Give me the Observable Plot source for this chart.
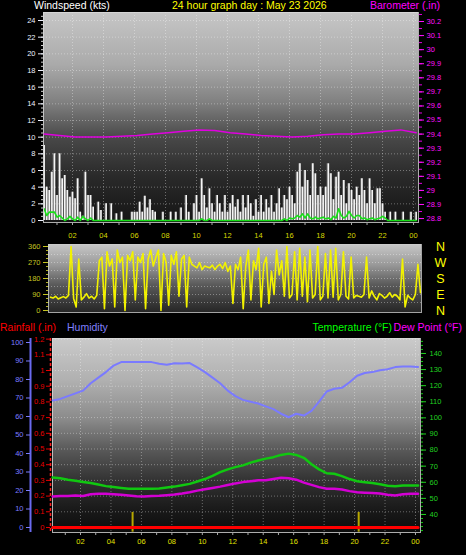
<!DOCTYPE html>
<html><head><meta charset="utf-8">
<script src="https://cdn.jsdelivr.net/npm/d3@7"></script>
<script src="https://cdn.jsdelivr.net/npm/@observablehq/plot@0.6"></script>
<style>
html,body{margin:0;padding:0;background:#000;}
#root{position:relative;width:466px;height:555px;background:#000;overflow:hidden;font-family:"Liberation Sans",Arial,sans-serif;}
#root svg{position:absolute;left:0;top:0;overflow:visible;background:transparent;}
.bg{position:absolute;}
.lbl{position:absolute;font-size:10.5px;white-space:nowrap;line-height:1;}
</style></head><body><div id="root"></div>
<script>
// ---------- DATA ----------
const title = "24 hour graph day : May 23 2026";
const hourTicks = [2,4,6,8,10,12,14,16,18,20,22,24];
const hourLabels = ["02","04","06","08","10","12","14","16","18","20","22","00"];
const windTicks = [0,2,4,6,8,10,12,14,16,18,20,22,24];
const baroTicks = [28.8,28.9,29.0,29.1,29.2,29.3,29.4,29.5,29.6,29.7,29.8,29.9,30.0,30.1,30.2];
const baroLabels = ["28.8","28.9","29","29.1","29.2","29.3","29.4","29.5","29.6","29.7","29.8","29.9","30","30.1","30.2"];
const dirTicks = [0,90,180,270,360];
const dirLetters = ["N","W","S","E","N"];
const dirLetterValues = [360,270,180,90,0];
const humTicks = [0,10,20,30,40,50,60,70,80,90,100];
const rainTicks = [0,0.1,0.2,0.3,0.4,0.5,0.6,0.7,0.8,0.9,1,1.1,1.2];
const rainLabels = ["0","0.1","0.2","0.3","0.4","0.5","0.6","0.7","0.8","0.9","1","1.1","1.2"];
const tempTicks = [40,50,60,70,80,90,100,110,120,130,140];

const startHour = 0.17;      // first sample 00:10
const sampleStep = 1/6;      // 10-minute samples (wind, direction)
const hourlyStep = 0.5;      // half-hourly samples (temp, humidity)

// wind gust (kts), 10-min samples
const windGust = [
 9,4,3.6,5.8,8,3,
 8,5,5.4,3.6,2.8,3.4,
 2.6,5,1,0.5,5.8,3,
 3,1.6,0,2.2,1.2,0,
 2,0,2,0,0.8,0,
 1,0,0,0,1,1,
 1,2.2,1,2.9,1.5,2.5,
 1.2,1,0,0,1,0,
 0,1,0,1,0,1.5,
 0,3,1,0,2,3,
 1,5,3,1.5,3.8,2,
 1,3,2,1,3,1,
 2,3,1.6,2.5,1,3,
 1.5,3,2,0.5,2.5,1,
 3,1,2.5,1.5,3,1,
 2,3.8,1.5,3,2.5,4,
 3,2,5.8,6.8,4,6,
 4.8,3,6.8,5.6,3,4,
 3,4,6.8,5.6,2.5,5.2,
 5.8,3,4.8,2,4.4,3.6,
 2.5,4,3,5,3.6,2,
 5,3.6,2,3.8,3.8,2,
 1,0,1,0,1,0,
 0,1,0,0,1,0,
 1];
// average wind (kts), 10-min samples
const windAvg = [
 1.4,0.6,1.0,1.0,1.0,0.4,
 0.6,0.3,0,0.2,0.5,0.2,
 0,0.4,0,0.5,0.2,0,
 0.3,0,0,0,0,0,
 0,0,0,0,0,0,
 0,0,0,0,0,0,
 0,0,0,0,0,0,
 0,0,0,0,0,0,
 0,0,0,0,0,0,
 0,0,0,0,0,0,
 0,0.2,0,0,0.2,0,
 0,0,0,0,0,0,
 0,0,0,0,0,0,
 0,0,0,0,0,0,
 0,0,0,0,0,0,
 0,0,0,0.2,0,0.3,
 0.2,0.3,0.6,0.4,0.8,0.3,
 0.8,0.3,0.2,0.4,0.2,0.3,
 0.4,0.2,0.3,0.1,0.5,0.3,
 1.4,0.6,0.3,0.5,1.1,0.6,
 0.3,0.6,0.6,0.2,0.3,0.1,
 0.2,0.3,0.1,0.2,0.3,0.5,
 0.3,0,0,0,0,0,
 0,0,0,0,0,0,
 0];
// wind direction (deg), 10-min samples
const windDir = [
 75,70,80,65,72,78,
 70,85,360,68,20,290,
 60,75,95,70,80,65,
 85,280,300,10,330,250,
 290,20,340,270,300,0,
 310,280,330,60,300,270,
 320,10,290,340,250,300,
 340,0,320,270,30,310,
 260,330,80,290,310,20,
 300,260,250,240,270,230,
 250,245,240,255,230,250,
 260,235,270,220,250,40,
 260,230,300,10,250,340,
 60,280,230,350,20,260,
 300,40,220,90,340,200,
 280,80,360,70,90,330,
 60,350,80,300,50,340,
 70,90,360,60,80,320,
 70,340,75,350,60,90,
 330,80,65,300,70,85,
 80,75,90,300,70,110,
 80,60,95,85,70,80,
 100,75,90,80,60,290,
 20,85,70,60,90,260,
 100];
// barometer (in), hourly
const baro = [29.40,29.39,29.38,29.38,29.38,29.385,29.39,29.40,29.41,29.42,29.43,29.425,29.41,29.40,29.39,29.385,29.38,29.385,29.395,29.40,29.40,29.41,29.42,29.43,29.41];
// half-hourly series
const humidity = [68.6,69.5,71,72.5,74,78,81,84,87.5,89.4,89.5,89.4,89.5,89.4,88.5,88,88.8,88.6,88.9,86.5,84,81,78,74,71,69,68,67,65.5,64,61.5,59.6,61.5,60.5,63,68,73.5,75,75.5,78.5,82,83.5,84,85,85.5,86.7,87,87,86.8];
const temperature = [63,62.5,61.6,61,60.2,59.5,58.6,57.6,57,56.5,56,56,56,56,56.2,56.8,57.3,58.2,59,60.5,62,64,66.3,68,69.4,70.5,72.2,73.5,74.7,75.6,77,77.8,77,75.2,71.2,68,65.6,65.3,63.8,62,60.6,60,59.5,58.8,57.8,57.5,58,58,58];
const dewPoint = [51.2,51.5,51.5,51.8,51.5,52.5,52.9,52.8,52.5,52.2,51.8,51.3,51.2,51.4,51.6,52,52.4,53,53.8,54.8,55.6,56.5,57.3,58.3,59.3,60.1,60.6,61.2,61.3,62,62.8,62.5,61.6,59.8,58.4,57,56,56,55.5,54.5,53.8,53.5,53.3,53,52.3,51.8,52.5,52.9,52.9];
const rainfall = [0,0,0,0,0,0,0,0,0,0,0,0,0,0,0,0,0,0,0,0,0,0,0,0,0,0,0,0,0,0,0,0,0,0,0,0,0,0,0,0,0,0,0,0,0,0,0,0,0];
const sunEvents = [5.42, 20.27];   // sunrise / sunset markers

// ---------- TABLES ----------
const windData = windGust.map((g,i)=>({t:startHour+i*sampleStep, gust:g, avg:windAvg[i]}));
const dirData = windDir.map((d,i)=>({t:startHour+i*sampleStep, dir:d}));
const baroData = baro.map((b,i)=>({t:startHour+i, baro:b}));
const bottomData = humidity.map((h,i)=>({t:startHour+i*hourlyStep, hum:h, temp:temperature[i], dew:dewPoint[i], rain:rainfall[i]}));
const dirLetterRows = dirLetters.map((s,i)=>({s, v:dirLetterValues[i]}));

// ---------- LAYOUT ----------
const W = 466, H = 555;
const root = document.getElementById("root");
const FONT = "Liberation Sans, Arial, sans-serif";
function bg(l,t,w,h,grad){const d=document.createElement("div");d.className="bg";Object.assign(d.style,{left:l+"px",top:t+"px",width:w+"px",height:h+"px",background:grad});root.appendChild(d);}
function label(text,pos,color){const d=document.createElement("div");d.className="lbl";d.textContent=text;d.style.color=color;for(const k in pos)d.style[k]=pos[k]+"px";root.appendChild(d);}
function layer(opts){const svg=Plot.plot({width:W,height:H,style:{background:"transparent",overflow:"visible",fontFamily:FONT,fontSize:"7.5px"},...opts});root.appendChild(svg);}
const fmt = (ticks, labels) => d => labels[ticks.findIndex(v=>Math.abs(v-d)<1e-6)];
const grid = {stroke:"#ffffff", strokeOpacity:0.35, strokeDasharray:"1,2"};

// backgrounds
bg(43,12,375,210,"linear-gradient(#c6c6c6 0%,#aaaaaa 25%,#808080 43%,#484848 60%,#2a2a2a 78%,#151515 100%)");
bg(48,244,373,68,"linear-gradient(#c8c8c8 0%,#9a9a9a 30%,#5a5a5a 60%,#262626 100%)");
bg(52,338,368,194,"linear-gradient(#cacaca 0%,#b0b0b0 22%,#8a8a8a 42%,#585858 58%,#313131 74%,#1a1a1a 88%,#0c0c0c 100%)");

// ---- top panel: windspeed ----
const topM = {marginLeft:43, marginRight:48, marginTop:12, marginBottom:H-222};
const topX = {domain:[0.13,24.32], label:null};
layer({...topM, x:topX, y:{domain:[-0.24,24.96], label:null},
  marks:[
    Plot.gridX({ticks:hourTicks, ...grid}),
    Plot.gridY({ticks:windTicks.slice(1), ...grid}),
    Plot.areaY(windData,{x:"t", y:"gust", curve:"step", fill:"#a0a0a0", fillOpacity:0.45}),
    Plot.ruleX(windData,{x:"t", y1:0, y2:"gust", stroke:"#f6f6f6", strokeWidth:1.6}),
    Plot.lineY(windData,{x:"t", y:"avg", stroke:"#18e018", strokeWidth:1.6}),
    Plot.frame({stroke:"#d8d8d8", strokeOpacity:0.8}),
    Plot.axisY({ticks:d3.range(0,24.6,0.5), text:null, tickSize:2, stroke:"#cfcfcf", label:null}),
    Plot.axisY({ticks:windTicks, tickFormat:d=>String(d), tickSize:5, tickPadding:3, color:"#eef2ff", fontSize:7.5, label:null}),
    Plot.axisX({ticks:d3.range(1,25,1), text:null, tickSize:3, stroke:"#aaaaaa", label:null}),
    Plot.axisX({ticks:hourTicks, tickFormat:fmt(hourTicks,hourLabels), tickSize:0, tickPadding:10, fill:"#d8d800", fontSize:7.5, label:null})
  ]});
// ---- top panel: barometer ----
layer({...topM, x:{...topX, axis:null}, y:{domain:[28.772,30.264], label:null},
  marks:[
    Plot.lineY(baroData,{x:"t", y:"baro", stroke:"#e000e0", strokeWidth:1.5}),
    Plot.axisY({anchor:"right", ticks:d3.range(28.8,30.26,0.05), text:null, tickSize:3, stroke:"#e000e0", label:null}),
    Plot.axisY({anchor:"right", ticks:baroTicks, tickFormat:fmt(baroTicks,baroLabels), tickSize:5, tickPadding:3, color:"#ff10ff", fontSize:7.5, label:null})
  ]});

// ---- middle panel: wind direction ----
const midXDomain = [0.04,24.235];
layer({marginLeft:48, marginRight:45, marginTop:244, marginBottom:H-312,
  x:{domain:midXDomain, axis:null}, y:{domain:[-11.25,371.25], label:null},
  marks:[
    Plot.gridY({ticks:[45,90,135,180,225,270,315], ...grid}),
    Plot.lineY(dirData,{x:"t", y:"dir", stroke:"#f2f200", strokeWidth:1.6}),
    Plot.frame({stroke:"#cccccc", strokeOpacity:0.8}),
    Plot.axisY({ticks:d3.range(0,361,22.5), text:null, tickSize:2, stroke:"#b0b020", label:null}),
    Plot.axisY({ticks:dirTicks, tickSize:5, tickPadding:3, color:"#c4c420", fontSize:7.5, label:null}),
    Plot.text(dirLetterRows,{x:()=>midXDomain[1], y:"v", text:"s", dx:19, fill:"#ffff00", fontSize:12.5, fontFamily:FONT})
  ]});

// ---- bottom panel ----
const botM = {marginLeft:52, marginRight:46, marginTop:338, marginBottom:H-532};
const botX = {domain:[0.16,24.33], label:null};
const rainY = {domain:[-0.032,1.204], label:null};
const humY = {domain:[-2.7,102.16], label:null};
const tempY = {domain:[28.8,149.3], label:null};
// rain layer (grid, frame, rain, sun markers, x axis)
layer({...botM, x:botX, y:{...rainY, axis:null},
  marks:[
    Plot.gridX({ticks:hourTicks, ...grid}),
    Plot.gridY({ticks:rainTicks.slice(1), ...grid}),
    Plot.frame({stroke:"#d8d8d8", strokeOpacity:0.8}),
    Plot.ruleX(sunEvents,{y1:-0.03, y2:0.096, stroke:"#b8a800", strokeWidth:2}),
    Plot.lineY(bottomData,{x:"t", y:"rain", stroke:"#ff0000", strokeWidth:3}),
    Plot.axisX({ticks:d3.range(1,25,1), text:null, tickSize:3, stroke:"#aaaaaa", label:null}),
    Plot.axisX({ticks:hourTicks, tickFormat:fmt(hourTicks,hourLabels), tickSize:0, tickPadding:6, fill:"#e0e000", fontSize:7.5, label:null})
  ]});
// rain axis
layer({marginLeft:50, marginRight:46, marginTop:338, marginBottom:H-532,
  x:{domain:[0,1], axis:null}, y:rainY,
  marks:[
    Plot.ruleX([0],{stroke:"#ff2020", strokeWidth:1.5, strokeDasharray:"3,2"}),
    Plot.axisY({ticks:rainTicks, tickFormat:fmt(rainTicks,rainLabels), tickSize:4, tickPadding:2, color:"#e80000", fontSize:7.5, label:null})
  ]});
// humidity axis
layer({marginLeft:30, marginRight:46, marginTop:338, marginBottom:H-532,
  x:{domain:[0,1], axis:null}, y:humY,
  marks:[
    Plot.ruleX([0],{stroke:"#6a6af0", strokeWidth:2}),
    Plot.axisY({ticks:humTicks, tickSize:4, tickPadding:3, color:"#7c7cff", fontSize:7.5, label:null})
  ]});
// humidity line
layer({...botM, x:{...botX, axis:null}, y:{...humY, axis:null},
  marks:[ Plot.lineY(bottomData,{x:"t", y:"hum", stroke:"#7a7aff", strokeWidth:2}) ]});
// temperature / dew point
layer({...botM, x:{...botX, axis:null}, y:tempY,
  marks:[
    Plot.lineY(bottomData,{x:"t", y:"dew", stroke:"#d400d4", strokeWidth:2.5}),
    Plot.lineY(bottomData,{x:"t", y:"temp", stroke:"#10c810", strokeWidth:2.5}),
    Plot.axisY({anchor:"right", ticks:d3.range(30,150,2.5), text:null, tickSize:2, stroke:"#10c810", label:null}),
    Plot.axisY({anchor:"right", ticks:tempTicks, tickSize:5, tickPadding:4, color:"#20d020", fontSize:7.5, label:null})
  ]});

// ---- header texts ----
label("Windspeed (kts)", {left:34, top:0}, "#ffffff");
label(title, {left:172, top:0}, "#ffff00");
label("Barometer (.in)", {right:26, top:0}, "#ff00ff");
label("Rainfall (.in)", {left:0, top:322}, "#ff0000");
label("Humidity", {left:67, top:322}, "#8080ff");
label("Temperature (°F)", {right:74, top:322}, "#00ff00");
label("Dew Point (°F)", {right:4, top:322}, "#ff00ff");
</script></body></html>
